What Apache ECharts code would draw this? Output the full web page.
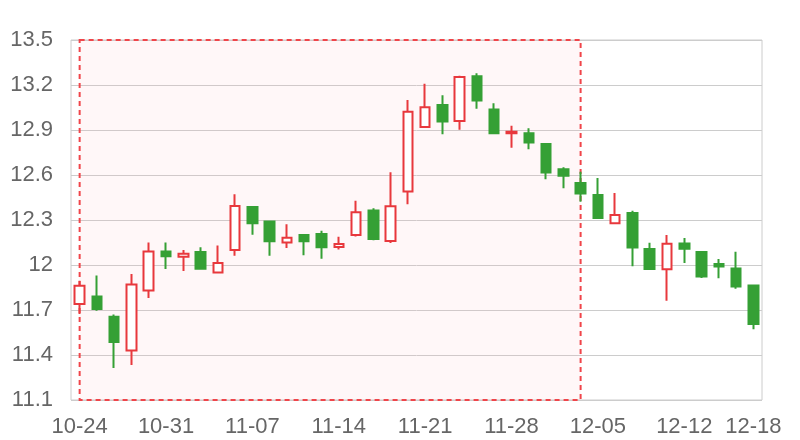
<!DOCTYPE html>
<html>
<head>
<meta charset="utf-8">
<script src="https://cdn.jsdelivr.net/npm/echarts@6/dist/echarts.min.js"></script>
<style>html,body{margin:0;padding:0;background:#fff}#c{width:800px;height:440px}</style>
</head>
<body>
<div id="c"></div>
<script>
var dates = ['10-24','10-25','10-26','10-27','10-28','10-31','11-01','11-02','11-03','11-04',
  '11-07','11-08','11-09','11-10','11-11','11-14','11-15','11-16','11-17','11-18',
  '11-21','11-22','11-23','11-24','11-25','11-28','11-29','11-30','12-01','12-02',
  '12-05','12-06','12-07','12-08','12-09','12-12','12-13','12-14','12-15','12-18'];
var opens  = [11.74,11.79,11.655,11.43,11.83,12.09,12.055,12.087,11.95,12.10,
  12.387,12.29,12.15,12.20,12.207,12.12,12.20,12.364,12.16,12.49,
  12.92,13.067,12.96,13.258,13.036,12.878,12.878,12.807,12.638,12.547,
  12.467,12.278,12.347,12.107,11.971,12.144,12.087,12.007,11.976,11.864];
var closes = [11.862,11.707,11.487,11.87,12.09,12.058,12.075,11.975,12.013,12.393,
  12.278,12.158,12.182,12.158,12.118,12.14,12.351,12.173,12.391,13.022,
  13.051,12.956,13.253,13.096,12.878,12.889,12.816,12.616,12.595,12.476,
  12.313,12.333,12.116,11.973,12.142,12.109,11.924,11.99,11.856,11.607];
var lows   = [11.673,11.695,11.313,11.333,11.78,11.973,11.96,11.97,11.95,12.062,
  12.202,12.062,12.113,12.065,12.042,12.104,12.19,12.165,12.147,12.405,
  12.92,12.871,12.902,13.042,12.878,12.782,12.771,12.571,12.511,12.422,
  12.309,12.271,11.991,11.97,11.762,12.013,11.913,11.911,11.842,11.571];
var highs  = [11.895,11.93,11.67,11.94,12.15,12.15,12.10,12.118,12.13,12.471,
  12.39,12.29,12.271,12.20,12.229,12.189,12.429,12.378,12.618,13.10,
  13.209,13.131,13.262,13.278,13.078,12.929,12.911,12.807,12.651,12.622,
  12.58,12.48,12.362,12.149,12.20,12.18,12.09,12.04,12.089,11.864];
var yTicks = {min: 11.1, max: 13.5, interval: 0.3};
var areaStart = '10-24', areaEnd = '12-02';

var kdata = dates.map(function(d, i){ return [opens[i], closes[i], lows[i], highs[i]]; });
var chart = echarts.init(document.getElementById('c'), null, {renderer:'canvas'});
chart.setOption({
  animation: false,
  grid: {left: 71, right: 38, top: 40, bottom: 40, show: true, borderColor: '#ccc', borderWidth: 1, backgroundColor: 'transparent'},
  xAxis: {
    type: 'category', data: dates,
    axisLine: {show: false}, axisTick: {show: false},
    axisLabel: {color: '#666', fontSize: 22, margin: 16, fontFamily: '"Liberation Sans", sans-serif',
      interval: function(i){ return i % 5 === 0 || i === dates.length - 1; }},
    splitLine: {show: false}
  },
  yAxis: {
    type: 'value', min: yTicks.min, max: yTicks.max, interval: yTicks.interval, scale: true,
    axisLine: {show: false}, axisTick: {show: false},
    axisLabel: {color: '#666', fontSize: 22, margin: 18, fontFamily: '"Liberation Sans", sans-serif'},
    splitLine: {lineStyle: {color: '#ccc'}}
  },
  series: [{
    type: 'candlestick',
    data: kdata,
    barWidth: 10,
    itemStyle: {
      color: '#ffffff', color0: '#35a035',
      borderColor: '#e8383d', borderColor0: '#35a035', borderWidth: 2
    },
    markArea: {
      silent: true,
      itemStyle: {color: 'rgba(255, 180, 185, 0.1)', borderColor: '#f0454a', borderWidth: 2, borderType: [5, 4]},
      data: [[{coord: [areaStart, yTicks.max]}, {coord: [areaEnd, yTicks.min]}]]
    }
  }]
});
</script>
</body>
</html>
